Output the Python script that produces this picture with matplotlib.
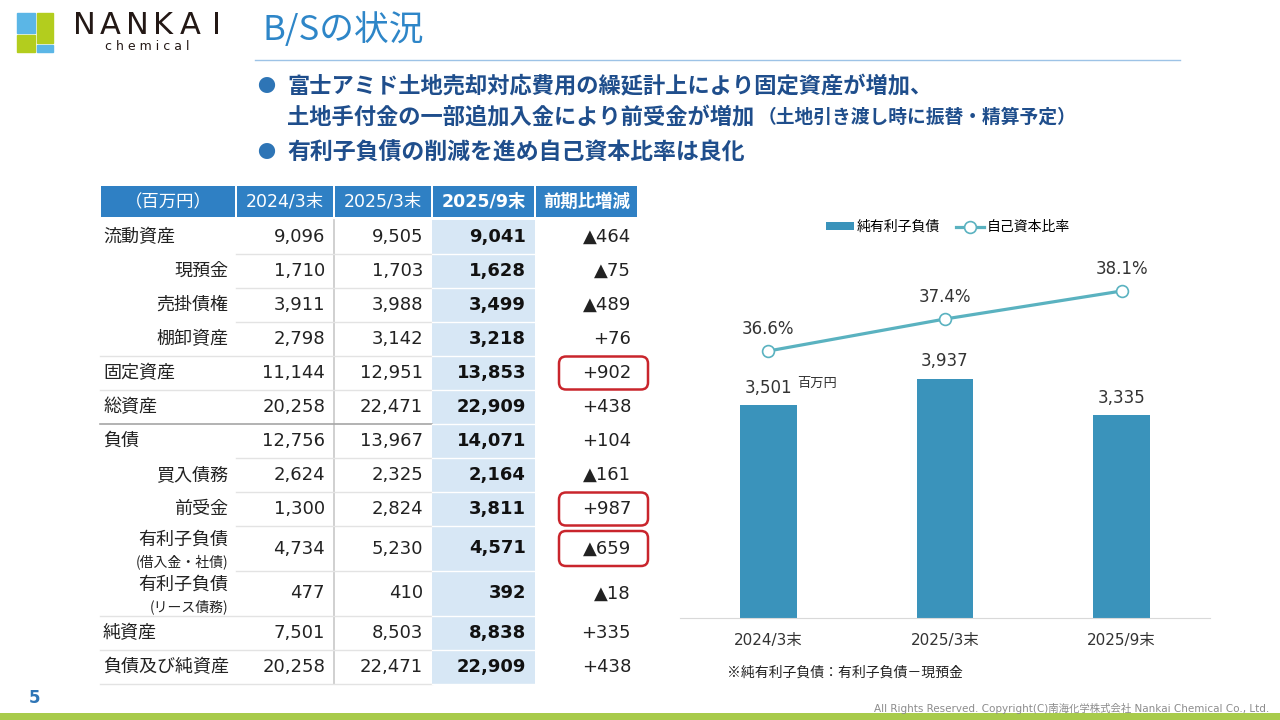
import numpy as np
import matplotlib
matplotlib.use("Agg")
import matplotlib.pyplot as plt
from matplotlib.patches import Rectangle, FancyBboxPatch

plt.rcParams['font.family'] = ['Noto Sans CJK JP', 'DejaVu Sans']
NUM = ['DejaVu Sans', 'Noto Sans CJK JP']

# ---- table data (百万円) ----
items = ['流動資産', '現預金', '売掛債権', '棚卸資産', '固定資産', '総資産', '負債',
         '買入債務', '前受金', '有利子負債', '有利子負債', '純資産', '負債及び純資産']
notes = ['', '', '', '', '', '', '', '', '', '(借入金・社債)', '(リース債務)', '', '']
is_sub = [0, 1, 1, 1, 0, 0, 0, 1, 1, 1, 1, 0, 0]
v2024_3 = [9096, 1710, 3911, 2798, 11144, 20258, 12756, 2624, 1300, 4734, 477, 7501, 20258]
v2025_3 = [9505, 1703, 3988, 3142, 12951, 22471, 13967, 2325, 2824, 5230, 410, 8503, 22471]
v2025_9 = [9041, 1628, 3499, 3218, 13853, 22909, 14071, 2164, 3811, 4571, 392, 8838, 22909]
headers = ['（百万円）', '2024/3末', '2025/3末', '2025/9末', '前期比増減']
highlight = [4, 8, 9]

# ---- chart data ----
periods = ['2024/3末', '2025/3末', '2025/9末']
net_debt = [3501, 3937, 3335]
equity_ratio = [36.6, 37.4, 38.1]

diff = np.array(v2025_9) - np.array(v2025_3)

fig = plt.figure(figsize=(12.8, 7.2), dpi=100)
bg = fig.add_axes([0, 0, 1, 1])
bg.set_xlim(0, 1280)
bg.set_ylim(720, 0)
bg.axis('off')

# ---- logo / title ----
bg.add_patch(Rectangle((17, 13), 18, 20, color='#5BB6E6'))
bg.add_patch(Rectangle((37, 13), 16, 30, color='#B3CD1E'))
bg.add_patch(Rectangle((17, 35), 18, 17, color='#B3CD1E'))
bg.add_patch(Rectangle((37, 45), 16, 7, color='#5BB6E6'))
for i, ch in enumerate('NANKAI'):
    bg.text(84 + i * 26.5, 25, ch, fontsize=22, color='#231815', ha='center',
            va='center', family=NUM, fontweight='medium')
bg.text(147, 46, 'c h e m i c a l', fontsize=9, color='#231815', ha='center',
        va='center', family=NUM)
bg.text(262, 31, 'B/Sの状況', fontsize=25, color='#2E86C8', va='center')
bg.plot([255, 1180], [60, 60], color='#9DC3E6', lw=1)

# ---- bullets ----
navy = '#1F4E8C'
bg.text(266, 87, '●', fontsize=13, color='#2E75B6', va='center', ha='center')
bg.text(287, 87, '富士アミド土地売却対応費用の繰延計上により固定資産が増加、',
        fontsize=16, color=navy, fontweight='bold', va='center')
bg.text(287, 117, '土地手付金の一部追加入金により前受金が増加',
        fontsize=16, color=navy, fontweight='bold', va='center')
bg.text(758, 117, '（土地引き渡し時に振替・精算予定）',
        fontsize=13.5, color=navy, fontweight='bold', va='center')
bg.text(266, 153, '●', fontsize=13, color='#2E75B6', va='center', ha='center')
bg.text(287, 153, '有利子負債の削減を進め自己資本比率は良化',
        fontsize=16.5, color=navy, fontweight='bold', va='center')

# ---- table ----
col_x = [100, 236, 334, 432, 535, 638]
hdr_blue = '#2F80C4'
for c in range(5):
    bg.add_patch(Rectangle((col_x[c] + 1, 186), col_x[c + 1] - col_x[c] - 2, 31,
                           color=hdr_blue, lw=0))
    cx = (col_x[c] + col_x[c + 1]) / 2
    bold = 'bold' if c >= 3 else 'normal'
    bg.text(cx, 202, headers[c], fontsize=12.5, color='white', ha='center',
            va='center', fontweight=bold, family=NUM)

row_h = [34] * 9 + [45, 45] + [34, 34]
tops = 220 + np.concatenate([[0], np.cumsum(row_h)[:-1]])
bg.add_patch(Rectangle((432, 220), 103, sum(row_h), color='#D7E7F5', lw=0))
bg.plot([334, 334], [220, 220 + sum(row_h)], color='#C8C8C8', lw=1.2)

for r in range(len(items)):
    top, h = tops[r], row_h[r]
    cy = top + h / 2
    bottom = top + h
    if notes[r]:
        bg.text(228, cy - 9, items[r], fontsize=13, ha='right', va='center', color='#222222')
        bg.text(228, cy + 13, notes[r], fontsize=10, ha='right', va='center', color='#222222')
    elif is_sub[r]:
        bg.text(228, cy, items[r], fontsize=13, ha='right', va='center', color='#222222')
    else:
        bg.text(103, cy, items[r], fontsize=13, ha='left', va='center', color='#222222')
    bg.text(325, cy, f'{v2024_3[r]:,}', fontsize=13, ha='right', va='center',
            family=NUM, color='#222222')
    bg.text(423, cy, f'{v2025_3[r]:,}', fontsize=13, ha='right', va='center',
            family=NUM, color='#222222')
    bg.text(526, cy, f'{v2025_9[r]:,}', fontsize=13, ha='right', va='center',
            family=NUM, fontweight='bold', color='#111111')
    d = diff[r]
    dtxt = f'▲{abs(d):,}' if d < 0 else f'+{d:,}'
    bg.text(631, cy, dtxt, fontsize=13, ha='right', va='center', family=NUM,
            color='#222222')
    # separators
    nxt_sub = r + 1 < len(items) and is_sub[r + 1]
    x0 = 236 if nxt_sub else 100
    if r == 5:
        bg.plot([x0, 432], [bottom, bottom], color='#A6A6A6', lw=1.2)
    else:
        bg.plot([x0, 432], [bottom, bottom], color='#E3E3E3', lw=1)
    bg.plot([432, 535], [bottom, bottom], color='white', lw=1)
    if r in highlight:
        bh = 33 if h < 40 else 35
        bg.add_patch(FancyBboxPatch((559, cy - bh / 2), 89, bh,
                                    boxstyle='round,pad=0,rounding_size=7',
                                    fc='none', ec='#C9252C', lw=1.8))

# ---- chart ----
ax = fig.add_axes([680 / 1280, (720 - 618) / 720, 530 / 1280, 418 / 720])
ax.patch.set_alpha(0)
x = np.arange(len(periods))
bars = ax.bar(x, net_debt, width=0.32, color='#3A93BB', zorder=2,
              label='純有利子負債')
ax.bar_label(bars, labels=[f'{v:,}' for v in net_debt], padding=6,
             fontsize=12, color='#333333', family=NUM)
ax.set_xlim(-0.5, 2.5)
ax.set_ylim(0, 418 / 0.0608)
ax.set_xticks(x)
ax.set_xticklabels(periods, fontsize=11, color='#333333', family=NUM)
ax.tick_params(axis='x', length=0, pad=11)
ax.set_yticks([])
for s in ['top', 'left', 'right']:
    ax.spines[s].set_visible(False)
ax.spines['bottom'].set_color('#D9D9D9')

ax2 = ax.twinx()
ax2.set_ylim(36.6 - (618 - 351) / 40, 36.6 + (351 - 200) / 40)
ln, = ax2.plot(x, equity_ratio, color='#5AB2C0', lw=2.3, marker='o', ms=8.5,
               mfc='white', mec='#5AB2C0', mew=1.2, label='自己資本比率')
for xi, v in zip(x, equity_ratio):
    ax2.annotate(f'{v}%', (xi, v), xytext=(0, 9), textcoords='offset points',
                 ha='center', va='bottom', fontsize=12, color='#333333', family=NUM)
ax2.axis('off')

fig.legend(handles=[bars, ln], loc='center', bbox_to_anchor=(948 / 1280, 1 - 227 / 720),
           ncol=2, frameon=False, fontsize=10, handlelength=2.0, handleheight=0.5,
           columnspacing=1.2, handletextpad=0.2)

bg.text(797, 383, '百万円', fontsize=9.5, color='#333333', va='center', ha='left')
bg.text(727, 673, '※純有利子負債：有利子負債－現預金', fontsize=10, color='#222222',
        va='center')

# ---- footer ----
bg.add_patch(Rectangle((0, 713), 1280, 7, color='#A8CB4B', lw=0))
bg.text(35, 698, '5', fontsize=12, color='#2E75B6', fontweight='bold', ha='center',
        va='center', family=NUM)
bg.text(1269, 708, 'All Rights Reserved. Copyright(C)南海化学株式会社 Nankai Chemical Co., Ltd.',
        fontsize=7.5, color='#8C8C8C', ha='right', va='center', family=NUM)

fig.savefig('out.png', dpi=100)
